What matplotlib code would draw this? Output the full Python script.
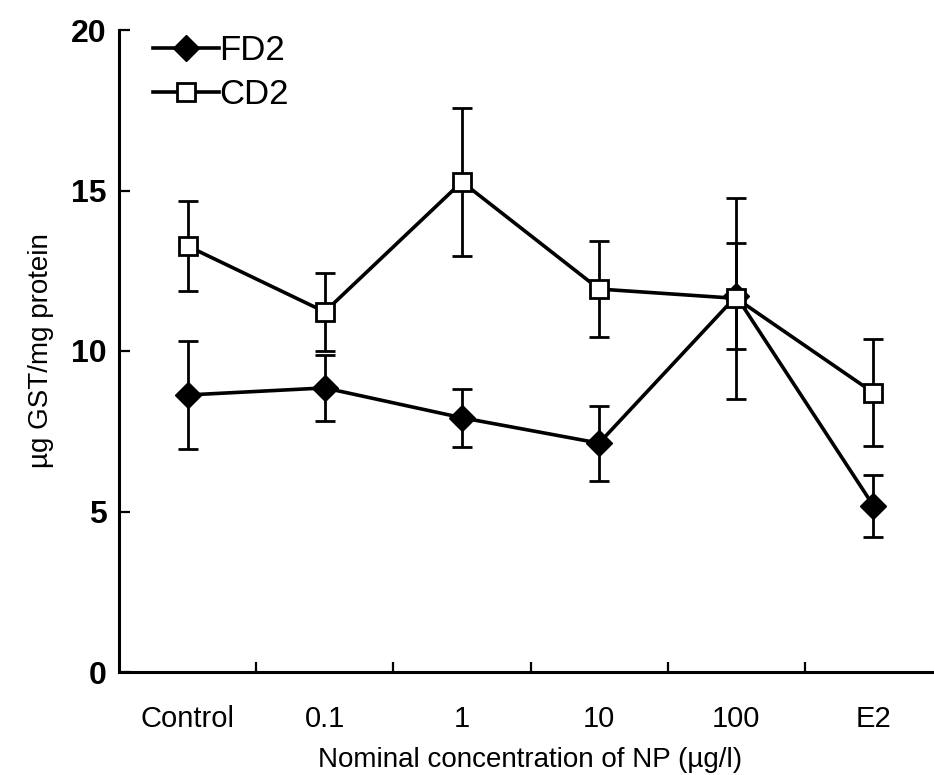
import matplotlib
matplotlib.use("Agg")
import matplotlib.pyplot as plt
import numpy as np

plt.rcParams['font.family'] = ['Liberation Sans', 'DejaVu Sans']

categories = ['Control', '0.1', '1', '10', '100', 'E2']
fd2_mean = [8.63, 8.85, 7.92, 7.13, 11.71, 5.18]
fd2_err = [1.67, 1.02, 0.90, 1.17, 1.64, 0.96]
cd2_mean = [13.27, 11.22, 15.27, 11.93, 11.64, 8.70]
cd2_err = [1.39, 1.22, 2.31, 1.50, 3.14, 1.67]

fig = plt.figure(figsize=(9.34, 7.75), dpi=100)
ax = fig.add_axes([119 / 934, 103 / 775, 823 / 934, 642 / 775])

x = np.arange(len(categories))

ax.errorbar(x, fd2_mean, yerr=fd2_err, color='black', marker='D', markersize=13,
            markerfacecolor='black', markeredgecolor='black', linewidth=2.6,
            elinewidth=2, capsize=7, capthick=2, label='FD2', zorder=2)
ax.errorbar(x, cd2_mean, yerr=cd2_err, color='black', marker='s', markersize=13,
            markerfacecolor='white', markeredgecolor='black', markeredgewidth=2,
            linewidth=2.6, elinewidth=2, capsize=7, capthick=2, label='CD2', zorder=3)

ax.set_xlim(-0.5, 5.5)
ax.set_ylim(0, 20)
ax.set_yticks([0, 5, 10, 15, 20])
ax.set_xticks(x)
ax.set_xticklabels(categories, fontsize=21)
ax.set_xticks(x[:-1] + 0.5, minor=True)
ax.tick_params(axis='x', which='major', length=0, pad=24)
ax.tick_params(axis='x', which='minor', direction='in', length=7, width=1.6)
ax.tick_params(axis='y', direction='in', length=8, width=1.6, labelsize=23, pad=9)
for lbl in ax.get_yticklabels():
    lbl.set_fontweight('bold')

for s in ['top', 'right']:
    ax.spines[s].set_visible(False)
for s in ['left', 'bottom']:
    ax.spines[s].set_linewidth(2.2)

ax.set_xlabel('Nominal concentration of NP (µg/l)', fontsize=20, labelpad=10)
ax.set_ylabel('µg GST/mg protein', fontsize=20, labelpad=12)

handles, labels = ax.get_legend_handles_labels()
handles = [h[0] for h in handles]
ax.legend(handles, labels, loc='upper left', frameon=False, fontsize=25,
          handlelength=1.9, handletextpad=0.0, labelspacing=0.3,
          borderaxespad=0.0, bbox_to_anchor=(0.025, 1.015))

fig.savefig('out.png', dpi=100)
